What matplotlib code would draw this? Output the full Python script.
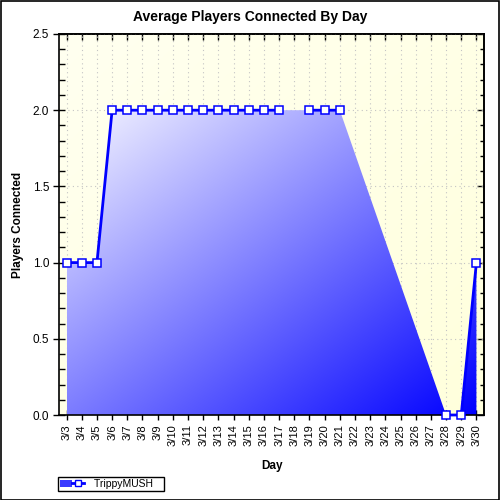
import numpy as np
import matplotlib
matplotlib.use("Agg")
import matplotlib.pyplot as plt
from matplotlib.patches import Polygon, Rectangle
from matplotlib.lines import Line2D
from matplotlib.legend_handler import HandlerTuple
from matplotlib.ticker import MultipleLocator, NullLocator

plt.rcParams['font.family'] = ['Liberation Sans', 'DejaVu Sans']

days = ["3/3", "3/4", "3/5", "3/6", "3/7", "3/8", "3/9", "3/10", "3/11", "3/12",
        "3/13", "3/14", "3/15", "3/16", "3/17", "3/18", "3/19", "3/20", "3/21",
        "3/22", "3/23", "3/24", "3/25", "3/26", "3/27", "3/28", "3/29", "3/30"]
players = [1, 1, 1, 2, 2, 2, 2, 2, 2, 2, 2, 2, 2, 2, 2, np.nan, 2, 2, 2,
           np.nan, np.nan, np.nan, np.nan, np.nan, np.nan, 0, 0, 1]
series_name = "TrippyMUSH"

x = np.arange(len(days))
y = np.array(players, dtype=float)
valid = ~np.isnan(y)

fig = plt.figure(figsize=(5, 5), dpi=100)
fig.patch.set_facecolor('white')
fig.patches.append(Rectangle((0.001, 0.001), 0.997, 0.997, transform=fig.transFigure,
                             fill=False, edgecolor='black', linewidth=1.2))
ax = fig.add_axes([0.118, 0.17, 0.85, 0.762])

xlim = (-0.5, len(days) - 0.5)
ylim = (0, 2.5)

# background gradient (light yellow)
gx, gy = np.meshgrid(np.linspace(0, 1, 200), np.linspace(0, 1, 200))
tb = (gx + (1 - gy)) / 2
bg = np.zeros((200, 200, 3))
bg[..., 0] = 1.0
bg[..., 1] = 1.0
bg[..., 2] = (240 - 20 * tb) / 255
ax.imshow(bg, extent=(xlim[0], xlim[1], ylim[0], ylim[1]), origin='lower', aspect='auto',
          zorder=0, interpolation='bilinear')

# grid
ax.grid(True, which='major', axis='both', color='#c4c4c4', linestyle=(0, (1, 3)),
        linewidth=0.8, zorder=1)

# gradient fill under series
xv = x[valid]
yv = y[valid]
poly_pts = np.column_stack([np.concatenate([xv, [xv[-1], xv[0]]]),
                            np.concatenate([yv, [0, 0]])])
poly = Polygon(poly_pts, closed=True, facecolor='none', edgecolor='none',
               transform=ax.transData)
ax.add_patch(poly)
n = 300
fx, fy = np.meshgrid(np.linspace(0, 1, n), np.linspace(0, 1, n))
t = (fx + (1 - fy)) / 2
c = 1 - t
img = np.zeros((n, n, 3))
img[..., 0] = 0.97 * c
img[..., 1] = 0.97 * c
img[..., 2] = 1.0
ymax = np.nanmax(y)
im = ax.imshow(img, extent=(xv[0], xv[-1], 0, ymax), origin='lower', aspect='auto',
               zorder=2, interpolation='bilinear')
im.set_clip_path(poly)
ax.set_xlim(*xlim)
ax.set_ylim(*ylim)

# line (only between consecutive days) and markers
ax.plot(x, y, color='#0000ff', linewidth=2, marker='s', markersize=5.2,
        markerfacecolor='white', markeredgecolor='#0000ff', markeredgewidth=1.1,
        zorder=4, clip_on=False)

ax.set_xticks(x)
ax.set_xticklabels(days, rotation=90, fontsize=8)
ax.xaxis.set_minor_locator(NullLocator())
ax.yaxis.set_minor_locator(MultipleLocator(0.1))
ax.set_yticks(np.arange(0, 2.51, 0.5))
ax.set_yticklabels([f"{v:.1f}" for v in np.arange(0, 2.51, 0.5)], fontsize=8.5)

ax.tick_params(axis='x', which='major', direction='inout', length=7, width=1,
               top=False, bottom=True, pad=3)
ax.tick_params(axis='y', which='major', direction='inout', length=8, width=1,
               left=True, right=False, pad=3)
ax.tick_params(axis='y', which='minor', direction='in', length=4, width=1,
               left=True, right=False)
for s in ax.spines.values():
    s.set_linewidth(1.2)
    s.set_color('black')

# top and right ticks pointing inward
top = ax.secondary_xaxis('top')
top.set_xticks(x)
top.xaxis.set_minor_locator(NullLocator())
top.tick_params(axis='x', which='major', direction='in', length=4, width=1, labeltop=False)
top.spines['top'].set_linewidth(1.2)
right = ax.secondary_yaxis('right')
right.set_yticks(np.arange(0, 2.51, 0.5))
right.yaxis.set_minor_locator(MultipleLocator(0.1))
right.tick_params(axis='y', which='major', direction='in', length=5, width=1, labelright=False)
right.tick_params(axis='y', which='minor', direction='in', length=3, width=1)
right.spines['right'].set_linewidth(1.2)

fig.text(0.5, 1 - 17 / 500, "Average Players Connected By Day", fontsize=10,
         fontweight='bold', ha='center', va='center')
ax.set_ylabel("Players Connected", fontsize=8.5, fontweight='bold', labelpad=6)
ax.set_xlabel("Day", fontsize=8.5, fontweight='bold', labelpad=10)

# legend
patch_h = Rectangle((0, 0), 1, 1, facecolor='#3a3aff', edgecolor='none')
line_h = Line2D([], [], color='#0000ff', linewidth=2, marker='s', markersize=5,
                markerfacecolor='white', markeredgecolor='#0000ff')
leg = fig.legend([(patch_h, line_h)], [series_name],
                 handler_map={tuple: HandlerTuple(ndivide=None, pad=0)},
                 loc='lower left', bbox_to_anchor=(0.116, 0.018), fontsize=7.5,
                 fancybox=False, frameon=True, edgecolor='black', framealpha=1,
                 borderpad=0.2, handlelength=2.3, handleheight=0.6, handletextpad=1.0,
                 borderaxespad=0)
leg.get_frame().set_linewidth(1)
leg.get_texts()[0].set_text(series_name + "   ")

fig.savefig("out.png", dpi=100)
